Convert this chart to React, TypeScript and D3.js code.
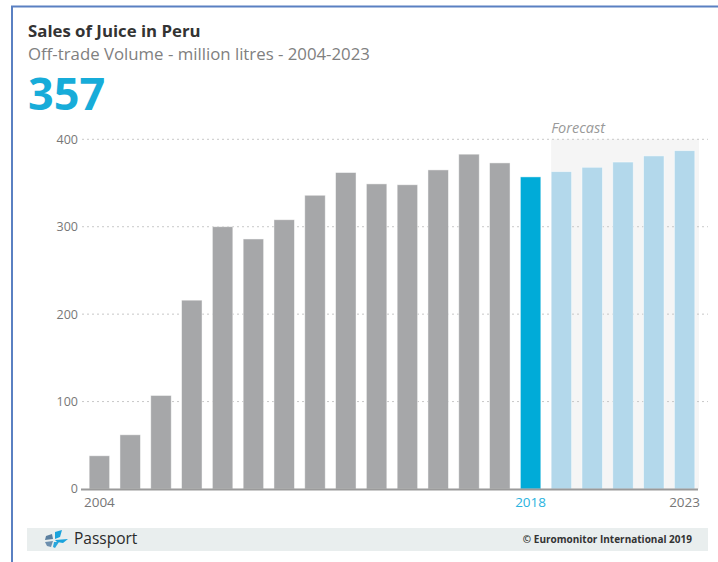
import { useEffect, useRef } from "react";
import * as d3 from "d3";

const W = 718;
const H = 562;

const years = [
  "2004", "2005", "2006", "2007", "2008", "2009", "2010", "2011", "2012", "2013",
  "2014", "2015", "2016", "2017", "2018", "2019", "2020", "2021", "2022", "2023",
];
const volumes = [
  38, 62, 107, 216, 300, 286, 308, 336, 362, 349,
  348, 365, 383, 373, 357, 363, 368, 374, 381, 387,
];
const yTicks = [0, 100, 200, 300, 400];
const labelledYears = ["2004", "2018", "2023"];
const currentYear = "2018";
const forecastFrom = "2019";

const FONT = "'Open Sans', 'Noto Sans', sans-serif";
const GREY_BAR = "#a6a7a9";
const CURRENT_BAR = "#00abd8";
const FORECAST_BAR = "#b3d8eb";

export default function App() {
  const svgRef = useRef<SVGSVGElement | null>(null);

  useEffect(() => {
    if (!svgRef.current) return;
    const svg = d3.select(svgRef.current);
    svg.selectAll("*").remove();

    const x = d3
      .scaleBand<string>()
      .domain(years)
      .range([84, 700])
      .paddingInner(0.335)
      .paddingOuter(0.1675);
    const y = d3.scaleLinear().domain([0, 400]).range([489, 139.3]);

    // frame
    svg
      .append("path")
      .attr("d", `M12,${H} V6.5 H${W}`)
      .attr("fill", "none")
      .attr("stroke", "#5a80c2")
      .attr("stroke-width", 2);

    // titles
    svg
      .append("text")
      .attr("x", 28)
      .attr("y", 37)
      .attr("font-family", FONT)
      .attr("font-size", 16.8)
      .attr("font-weight", 700)
      .attr("fill", "#333")
      .text("Sales of Juice in Peru");
    svg
      .append("text")
      .attr("x", 28)
      .attr("y", 60)
      .attr("font-family", FONT)
      .attr("font-size", 16.8)
      .attr("fill", "#808080")
      .text("Off-trade Volume - million litres - 2004-2023");
    svg
      .append("text")
      .attr("x", 28)
      .attr("y", 110)
      .attr("font-family", FONT)
      .attr("font-size", 45)
      .attr("font-weight", 700)
      .attr("fill", "#17acd9")
      .text(String(volumes[years.indexOf(currentYear)]));

    // forecast band
    const bandX0 = x(forecastFrom) ?? 0;
    svg
      .append("rect")
      .attr("x", bandX0)
      .attr("y", y(400))
      .attr("width", 699 - bandX0)
      .attr("height", y(0) - y(400))
      .attr("fill", "#f5f5f5");
    svg
      .append("text")
      .attr("x", bandX0)
      .attr("y", 133)
      .attr("font-family", FONT)
      .attr("font-size", 14.5)
      .attr("font-style", "italic")
      .attr("fill", "#999")
      .text("Forecast");

    // gridlines + y labels
    const grid = svg.append("g");
    grid
      .selectAll("line")
      .data(yTicks.filter((t) => t > 0))
      .join("line")
      .attr("x1", 82)
      .attr("x2", 708)
      .attr("y1", (d) => y(d))
      .attr("y2", (d) => y(d))
      .attr("stroke", "#c8c8c8")
      .attr("stroke-width", 1)
      .attr("stroke-dasharray", "2,3");
    grid
      .selectAll("text")
      .data(yTicks)
      .join("text")
      .attr("x", 78)
      .attr("y", (d) => y(d))
      .attr("dy", "0.35em")
      .attr("text-anchor", "end")
      .attr("font-family", FONT)
      .attr("font-size", 12.5)
      .attr("fill", "#777")
      .text((d) => d);

    // bars
    const idxForecast = years.indexOf(forecastFrom);
    svg
      .append("g")
      .selectAll("rect")
      .data(years.map((yr, i) => ({ yr, v: volumes[i], i })))
      .join("rect")
      .attr("x", (d) => x(d.yr) ?? 0)
      .attr("y", (d) => y(d.v))
      .attr("width", x.bandwidth())
      .attr("height", (d) => y(0) - y(d.v))
      .attr("fill", (d) =>
        d.yr === currentYear ? CURRENT_BAR : d.i >= idxForecast ? FORECAST_BAR : GREY_BAR,
      )
      .attr("stroke", "rgba(255,255,255,0.6)")
      .attr("stroke-width", 0.8);

    // x axis
    svg
      .append("line")
      .attr("x1", 81)
      .attr("x2", 698)
      .attr("y1", y(0) + 0.5)
      .attr("y2", y(0) + 0.5)
      .attr("stroke", "#9a9a9a")
      .attr("stroke-width", 2);
    svg
      .append("g")
      .selectAll("text")
      .data(labelledYears)
      .join("text")
      .attr("x", (d) => (x(d) ?? 0) + x.bandwidth() / 2)
      .attr("y", 507)
      .attr("text-anchor", "middle")
      .attr("font-family", FONT)
      .attr("font-size", 13.5)
      .attr("fill", (d) => (d === currentYear ? "#2ab3e0" : "#777"))
      .text((d) => d);

    // footer
    svg
      .append("rect")
      .attr("x", 27)
      .attr("y", 528)
      .attr("width", 681)
      .attr("height", 23)
      .attr("fill", "#e9eeee");
    const logo = svg.append("g").attr("transform", "translate(43,530)");
    logo.append("path").attr("d", "M3,6 L9,4 L10,9 L2,10 Z").attr("fill", "#5b7f9f");
    logo.append("path").attr("d", "M2,12 L10,11 L8,17 L4,16 Z").attr("fill", "#6d8fae");
    logo.append("path").attr("d", "M11,12 L16,12 L12,18 L10,17 Z").attr("fill", "#2aa6dc");
    logo.append("path").attr("d", "M12,2 L19,0 L17,7 L12,9 Z").attr("fill", "#1aa3dc");
    logo.append("path").attr("d", "M12,10 L25,9 L20,13 L14,12 Z").attr("fill", "#1aa3dc");
    svg
      .append("text")
      .attr("x", 74)
      .attr("y", 544)
      .attr("font-family", FONT)
      .attr("font-size", 15.5)
      .attr("fill", "#2a2a2a")
      .text("Passport");
    svg
      .append("text")
      .attr("x", 692)
      .attr("y", 543)
      .attr("text-anchor", "end")
      .attr("font-family", FONT)
      .attr("font-size", 10)
      .attr("font-weight", 700)
      .attr("fill", "#333")
      .text("© Euromonitor International 2019");
  }, []);

  return (
    <svg
      ref={svgRef}
      width={W}
      height={H}
      viewBox={`0 0 ${W} ${H}`}
      style={{ position: "absolute", left: 0, top: 0, background: "#fff" }}
    />
  );
}
